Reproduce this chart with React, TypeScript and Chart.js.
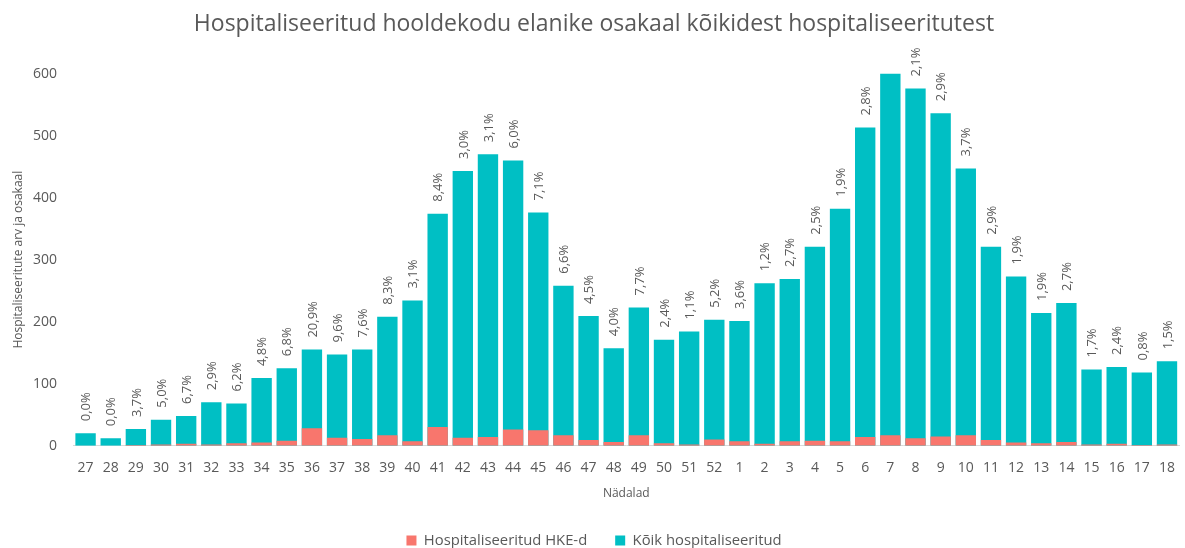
import React, { useEffect, useRef } from "react";
import { Chart, registerables } from "chart.js";

Chart.register(...registerables);

const weeks = [
  "27", "28", "29", "30", "31", "32", "33", "34", "35", "36", "37", "38", "39", "40",
  "41", "42", "43", "44", "45", "46", "47", "48", "49", "50", "51", "52",
  "1", "2", "3", "4", "5", "6", "7", "8", "9", "10", "11", "12", "13", "14", "15", "16", "17", "18",
];

const allHospitalised = [
  20, 12, 27, 42, 48, 70, 68, 109, 125, 155, 147, 155, 208, 234,
  374, 443, 470, 460, 376, 258, 209, 157, 223, 171, 184, 203,
  201, 262, 269, 321, 382, 513, 600, 576, 536, 447, 321, 273, 214, 230, 123, 127, 118, 136,
];

const careHomeHospitalised = [
  0, 0, 1, 2, 3, 2, 4, 5, 8, 28, 13, 11, 17, 7,
  30, 13, 14, 26, 25, 17, 9, 6, 17, 4, 2, 10,
  7, 3, 7, 8, 7, 14, 17, 12, 15, 17, 9, 5, 4, 6, 2, 3, 1, 2,
];

const shareLabels = [
  "0,0%", "0,0%", "3,7%", "5,0%", "6,7%", "2,9%", "6,2%", "4,8%", "6,8%", "20,9%", "9,6%", "7,6%", "8,3%", "3,1%",
  "8,4%", "3,0%", "3,1%", "6,0%", "7,1%", "6,6%", "4,5%", "4,0%", "7,7%", "2,4%", "1,1%", "5,2%",
  "3,6%", "1,2%", "2,7%", "2,5%", "1,9%", "2,8%", "", "2,1%", "2,9%", "3,7%", "2,9%", "1,9%", "1,9%", "2,7%", "1,7%", "2,4%", "0,8%", "1,5%",
];

const FONT = "'Open Sans', 'Noto Sans', sans-serif";
const GRAY = "#595959";

const shareLabelPlugin = {
  id: "shareLabels",
  afterDatasetsDraw(chart: any) {
    const meta = chart.getDatasetMeta(1);
    const ctx = chart.ctx;
    ctx.save();
    ctx.fillStyle = GRAY;
    ctx.font = `13px ${FONT}`;
    ctx.textAlign = "left";
    ctx.textBaseline = "middle";
    meta.data.forEach((el: any, i: number) => {
      const txt = shareLabels[i];
      if (!txt) return;
      ctx.save();
      ctx.translate(el.x + 1, el.y - 12);
      ctx.rotate(-Math.PI / 2);
      ctx.fillText(txt, 0, 0);
      ctx.restore();
    });
    ctx.restore();
  },
};

export default function App() {
  const ref = useRef<HTMLCanvasElement | null>(null);

  useEffect(() => {
    document.body.style.margin = "0";
    document.body.style.overflow = "hidden";
    if (!ref.current) return;
    const chart = new Chart(ref.current, {
      type: "bar",
      data: {
        labels: weeks,
        datasets: [
          {
            label: "Hospitaliseeritud HKE-d",
            data: careHomeHospitalised,
            backgroundColor: "#F8766D",
            grouped: false,
            barPercentage: 0.81,
            categoryPercentage: 1,
          },
          {
            label: "Kõik hospitaliseeritud",
            data: allHospitalised,
            backgroundColor: "#00BFC4",
            grouped: false,
            barPercentage: 0.81,
            categoryPercentage: 1,
          },
        ],
      },
      options: {
        responsive: false,
        animation: false,
        layout: { padding: { left: 0, right: 1, top: 0, bottom: 0 } },
        plugins: {
          title: {
            display: true,
            text: "Hospitaliseeritud hooldekodu elanike osakaal kõikidest hospitaliseeritutest",
            color: GRAY,
            font: { family: FONT, size: 23, weight: "normal" },
            padding: { top: 11, bottom: 35 },
          },
          legend: {
            position: "bottom",
            labels: {
              color: GRAY,
              font: { family: FONT, size: 14.8 },
              boxWidth: 10,
              boxHeight: 10,
              padding: 28,
            },
          },
          tooltip: { enabled: false },
        },
        scales: {
          x: {
            grid: { display: false, drawTicks: false },
            border: { display: true, color: "#D9D9D9", width: 1 },
            ticks: {
              color: GRAY,
              font: { family: FONT, size: 14 },
              padding: 14,
              maxRotation: 0,
              autoSkip: false,
            },
            title: {
              display: true,
              text: "Nädalad",
              color: GRAY,
              font: { family: FONT, size: 12 },
              padding: { top: 4, bottom: 4 },
            },
            afterFit(scale: any) {
              scale.height = 59.5;
            },
          },
          y: {
            min: 0,
            max: 600,
            grid: { display: false, drawTicks: false },
            border: { display: false },
            ticks: {
              stepSize: 100,
              color: GRAY,
              font: { family: FONT, size: 14 },
              padding: 16,
            },
            title: {
              display: true,
              text: "Hospitaliseeritute arv ja osakaal",
              color: GRAY,
              font: { family: FONT, size: 12 },
              padding: { top: 11, bottom: 4 },
            },
            afterFit(scale: any) {
              scale.width = 73;
            },
          },
        },
      },
      plugins: [shareLabelPlugin],
    });
    return () => chart.destroy();
  }, []);

  return (
    <div style={{ width: 1185, height: 548, overflow: "hidden" }}>
      <canvas ref={ref} width={1189} height={558} style={{ display: "block" }} />
    </div>
  );
}
